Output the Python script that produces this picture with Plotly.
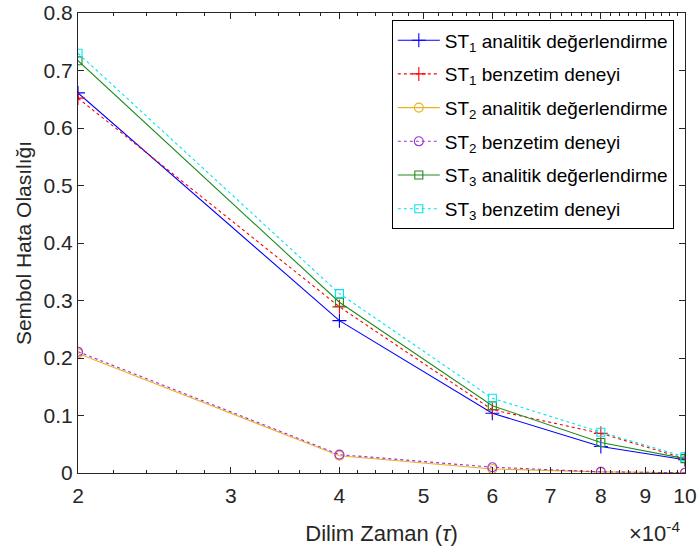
import plotly.graph_objects as go

# x values in units of 1e-4
x_vals = [2, 4, 6, 8, 10]
st1_analitik = [0.661, 0.265, 0.104, 0.046, 0.023]
st1_benzetim = [0.652, 0.289, 0.110, 0.069, 0.025]
st2_analitik = [0.208, 0.030, 0.007, 0.002, 0.0005]
st2_benzetim = [0.211, 0.032, 0.010, 0.002, 0.0005]
st3_analitik = [0.717, 0.297, 0.117, 0.053, 0.025]
st3_benzetim = [0.730, 0.312, 0.130, 0.071, 0.028]

x_ticks = [2, 3, 4, 5, 6, 7, 8, 9, 10]
y_ticks = [0, 0.1, 0.2, 0.3, 0.4, 0.5, 0.6, 0.7, 0.8]
minor_ticks = [round(2 + 0.2 * i, 1) for i in range(41)]

series = [
    ("ST<sub>1</sub> analitik değerlendirme", st1_analitik, "#0000FF", "solid", "cross-thin-open", 10),
    ("ST<sub>1</sub> benzetim deneyi", st1_benzetim, "#FF0000", "dot", "cross-thin-open", 10),
    ("ST<sub>2</sub> analitik değerlendirme", st2_analitik, "#EDB120", "solid", "circle-open", 9),
    ("ST<sub>2</sub> benzetim deneyi", st2_benzetim, "#9B30D9", "dot", "circle-open", 9),
    ("ST<sub>3</sub> analitik değerlendirme", st3_analitik, "#1E8C1E", "solid", "square-open", 8),
    ("ST<sub>3</sub> benzetim deneyi", st3_benzetim, "#00E5EE", "dot", "square-open", 8),
]

fig = go.Figure()
for i, (name, vals, color, dash, sym, msize) in enumerate(series):
    fig.add_trace(go.Scatter(
        x=x_vals, y=vals, name=name, mode="lines+markers", legendgroup=f"g{i}",
        line=dict(color=color, width=1.1, dash=dash),
        marker=dict(symbol=sym, size=msize, color=color, line=dict(color=color, width=1.1)),
    ))

font_family = "Arial, Liberation Sans, sans-serif"
fig.update_layout(
    width=697, height=546,
    margin=dict(l=78, r=12, t=13, b=73),
    paper_bgcolor="white", plot_bgcolor="white",
    font=dict(family=font_family, size=21, color="#262626"),
    showlegend=True,
    legend=dict(
        x=0.517, y=0.984, xanchor="left", yanchor="top",
        bgcolor="white", bordercolor="#000000", borderwidth=1,
        font=dict(size=19, color="#000000"),
        tracegroupgap=6, traceorder="grouped",
        itemwidth=42,
        entrywidth=300, entrywidthmode="pixels",
    ),
    xaxis=dict(
        type="log", range=[0.30103, 1.0], automargin=False,
        tickmode="array", tickvals=x_ticks, ticktext=[str(t) for t in x_ticks],
        ticks="inside", ticklen=6, tickcolor="#262626",
        showline=True, linecolor="#262626", linewidth=1, mirror="ticks",
        showgrid=False, zeroline=False,
        tickfont=dict(size=21), ticklabelstandoff=4, ticklabeloverflow="allow",
        minor=dict(tickmode="array", tickvals=minor_ticks, ticks="inside", ticklen=3, tickcolor="#262626", showgrid=False),
        title=dict(text="Dilim Zaman (<i>τ</i>)", font=dict(size=22), standoff=22),
    ),
    yaxis=dict(
        range=[0, 0.8], automargin=False,
        tickmode="array", tickvals=y_ticks, ticktext=["0", "0.1", "0.2", "0.3", "0.4", "0.5", "0.6", "0.7", "0.8"],
        ticks="inside", ticklen=6, tickcolor="#262626",
        showline=True, linecolor="#262626", linewidth=1, mirror="ticks",
        showgrid=False, zeroline=False,
        tickfont=dict(size=21),
        title=dict(text="Sembol Hata Olasılığı", font=dict(size=21), standoff=6),
    ),
    annotations=[dict(
        text="×10<sup>-4</sup>", xref="paper", yref="paper", x=0.905, y=-0.128,
        xanchor="left", yanchor="middle", showarrow=False, font=dict(size=22, color="#262626"),
    )],
)

fig.write_html("out.html")
